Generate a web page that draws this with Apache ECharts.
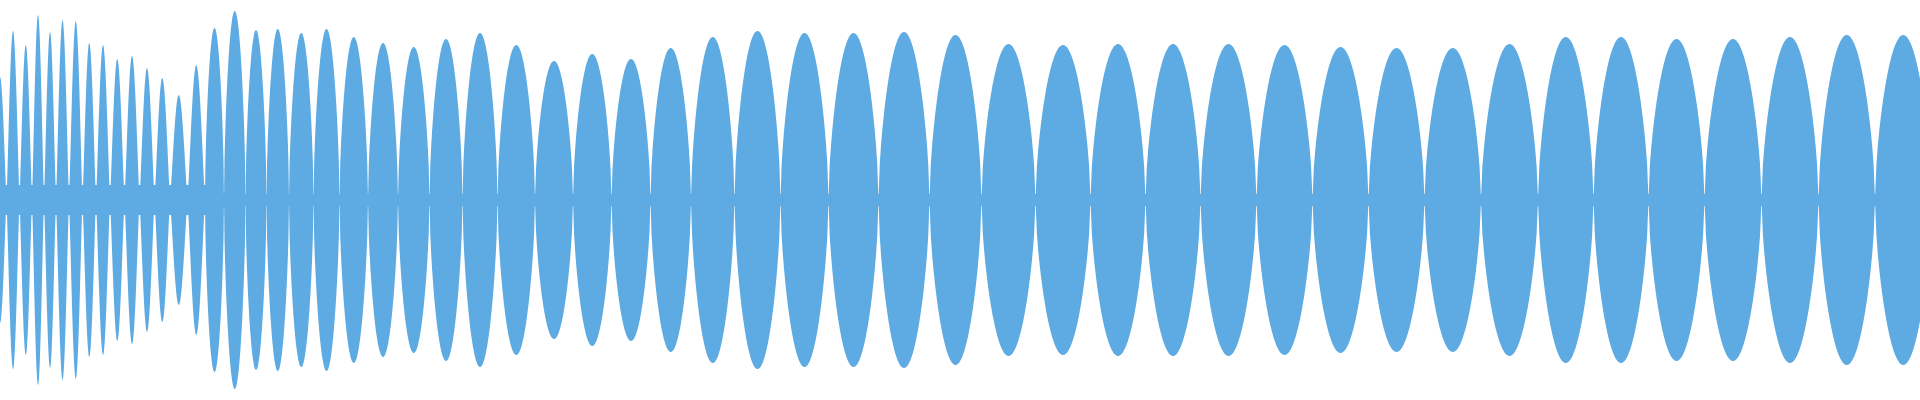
<!DOCTYPE html>
<html><head><meta charset="utf-8">
<script src="https://cdn.jsdelivr.net/npm/echarts@6/dist/echarts.min.js"></script>
<style>html,body{margin:0;padding:0;background:#fff}#c{width:1920px;height:400px}</style>
</head><body><div id="c"></div>
<script>
// lobe centres (x, in samples/pixels) and peak amplitudes
const lobeCenters = [0,13,26,38,50,62,76,89,103,117,132,147,162,178,197,213,235,256,277,301,326,353,383,413,446,479,516,554,592,631,670,712,757,804,853,904,955,1008,1063,1118,1173,1228,1285,1340,1397,1452,1510,1566,1621,1676,1733,1790,1847,1903,1960];
const lobeAmps    = [123,169,155,185,168,180,179,157,155,141,144,132,122,105,135,172,189,170,171,167,171,163,157,153,161,167,155,139,146,141,152,163,169,167,167,168,165,156,155,156,156,156,155,153,152,152,156,163,163,161,161,163,165,165,165];
// thin centre band where the signal never reaches zero
const bandStarts = [0,215];
const bandEnds   = [215,1920];
const bandHalf   = [15,6];

const lobes = lobeCenters.map((c,i)=>{
  const prev = i>0 ? (lobeCenters[i-1]+c)/2 : c-(lobeCenters[1]-c)/2;
  const next = i<lobeCenters.length-1 ? (lobeCenters[i+1]+c)/2 : c+(c-lobeCenters[i-1])/2;
  return [prev,next,lobeAmps[i]];
});
const bands = bandStarts.map((s,i)=>[s,bandEnds[i],bandHalf[i]]);
const color = '#5dabe2';
const chart = echarts.init(document.getElementById('c'));
chart.setOption({
  animation:false,
  grid:{left:0,right:0,top:0,bottom:0},
  xAxis:{type:'value',min:0,max:1920,show:false},
  yAxis:{type:'value',min:-200,max:200,show:false},
  series:[
    {type:'custom',clip:true,data:lobes,renderItem:(p,api)=>{
      const s=api.value(0),e=api.value(1),a=api.value(2);
      const ex = (e-s)>18 ? 0.6 : 1.2;
      const top=[],bot=[];const n=40;
      for(let k=0;k<=n;k++){const t=k/n;const x=s+(e-s)*t;const v=a*Math.pow(Math.sin(Math.PI*t),ex);
        top.push(api.coord([x,v]));bot.unshift(api.coord([x,-v]));}
      return {type:'polygon',shape:{points:top.concat(bot)},style:{fill:color}};
    }},
    {type:'custom',clip:true,data:bands,renderItem:(p,api)=>{
      const a=api.coord([api.value(0),api.value(2)]),b=api.coord([api.value(1),-api.value(2)]);
      return {type:'rect',shape:{x:a[0],y:a[1],width:b[0]-a[0],height:b[1]-a[1]},style:{fill:color}};
    }}
  ]
});
</script></body></html>
